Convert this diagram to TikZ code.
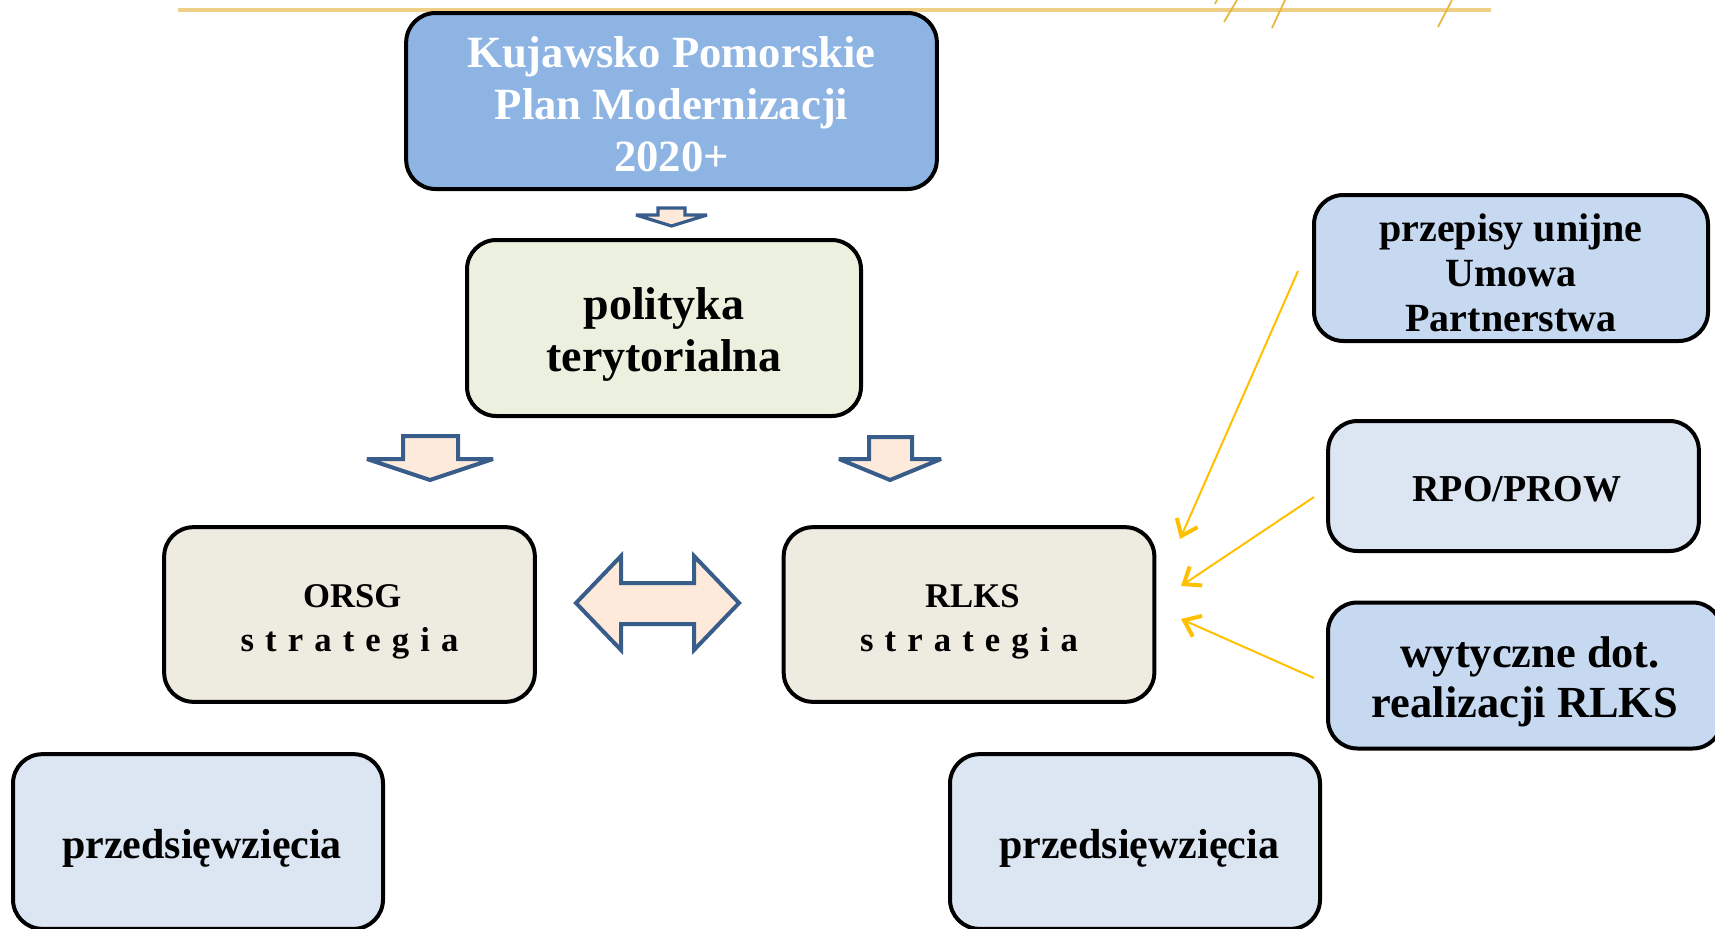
\documentclass[tikz,border=0pt]{standalone}
\usepackage{fontspec}
\setmainfont{Liberation Serif}
\usetikzlibrary{arrows.meta}
\definecolor{topblue}{HTML}{8EB4E3}
\definecolor{palegreen}{HTML}{EBF1DE}
\definecolor{paletan}{HTML}{EEECE1}
\definecolor{paleblue}{HTML}{DCE6F2}
\definecolor{midblue}{HTML}{C6D9F1}
\definecolor{peach}{HTML}{FDEADA}
\definecolor{arrowblue}{HTML}{385D8A}
\definecolor{ygold}{HTML}{FFC000}
\definecolor{linegold}{HTML}{EDCF85}
\definecolor{strokegold}{HTML}{E8B63C}
\newcommand{\ls}{\hspace{0.32em}}
\newcommand{\boxtext}[2]{\raisebox{-#1}[\height][\depth]{\begin{tabular}{@{}c@{}}#2\end{tabular}}}
\begin{document}
\begin{tikzpicture}[x=0.75pt,y=-0.75pt,
  box/.style={draw=black, line width=3pt, rounded corners=22pt, align=center, inner sep=0pt},
  blockarrow/.style={draw=arrowblue, fill=peach, line width=3pt, line join=miter, miter limit=3},
  yarrow/.style={draw=ygold, line width=1.5pt, -{Straight Barb[length=11pt,width=17pt,line width=3pt]}},
  goldstroke/.style={draw=strokegold, line width=1.3pt}]
\useasboundingbox (0,0) rectangle (1715,928);
% top decorative line
\draw[draw=linegold, line width=2.6pt] (178,10) -- (1491,10);
\draw[goldstroke] (1237,0) -- (1224,22);
\draw[goldstroke] (1285,0) -- (1272,28);
\draw[goldstroke] (1452,0) -- (1438,27);
\draw[goldstroke] (1217,0) -- (1215,4);
% boxes
\node[box, fill=topblue, minimum width=398pt, minimum height=132pt, text=white,
  font={\bfseries\fontsize{33.5}{39}\selectfont}] (top) at (671.5,101)
  {\boxtext{5.7pt}{Kujawsko Pomorskie\\Plan Modernizacji\\2020+}};
\node[box, fill=palegreen, minimum width=295.5pt, minimum height=132pt,
  font={\bfseries\fontsize{34.5}{39}\selectfont}] (pol) at (664,328)
  {\boxtext{5.5pt}{polityka\\terytorialna}};
\node[box, fill=paletan, minimum width=278pt, minimum height=131pt,
  font={\bfseries\fontsize{26}{33}\selectfont}] (orsg) at (349.5,614.5)
  {\boxtext{4.6pt}{\hspace{4pt}ORSG\\s\ls t\ls r\ls a\ls t\ls e\ls g\ls i\ls a}};
\node[box, fill=paletan, minimum width=278pt, minimum height=131pt,
  font={\bfseries\fontsize{26}{33}\selectfont}] (rlks) at (969,614.5)
  {\boxtext{4.6pt}{\hspace{5pt}RLKS\\s\ls t\ls r\ls a\ls t\ls e\ls g\ls i\ls a}};
\node[box, fill=paleblue, minimum width=277.5pt, minimum height=131pt,
  font={\bfseries\fontsize{31.5}{38}\selectfont}] (prz1) at (198,841.5)
  {\boxtext{4.9pt}{\hspace{6pt}przedsięwzięcia}};
\node[box, fill=paleblue, minimum width=277.5pt, minimum height=131pt,
  font={\bfseries\fontsize{31.5}{38}\selectfont}] (prz2) at (1135,841.5)
  {\boxtext{4.9pt}{\hspace{6pt}przedsięwzięcia}};
\node[box, fill=midblue, minimum width=295.5pt, minimum height=109.5pt,
  font={\bfseries\fontsize{30}{33.4}\selectfont}] (przepisy) at (1511,268)
  {\boxtext{7.2pt}{przepisy unijne\\Umowa\\Partnerstwa}};
\node[box, fill=paleblue, minimum width=278pt, minimum height=97.5pt,
  font={\bfseries\fontsize{28.5}{34}\selectfont}] (rpo) at (1513.5,486)
  {\boxtext{4.8pt}{\hspace{5pt}RPO/PROW}};
\node[box, fill=midblue, minimum width=295.5pt, minimum height=109.5pt,
  font={\bfseries\fontsize{33.3}{37.5}\selectfont}] (wyt) at (1525,675.5)
  {\boxtext{5.6pt}{\hspace{8pt}wytyczne dot.\\realizacji RLKS}};
% block arrows
\draw[blockarrow, line width=2.4pt] (658,208) -- (685,208) -- (685,215) -- (707,215)
  -- (671.5,226) -- (636,215) -- (658,215) -- cycle;
\draw[blockarrow] (403,436) -- (458,436) -- (458,459) -- (493,459) -- (430,480)
  -- (367,459) -- (403,459) -- cycle;
\draw[blockarrow] (869,437) -- (912,437) -- (912,459) -- (941,459) -- (890,480)
  -- (839,459) -- (869,459) -- cycle;
\draw[blockarrow] (576,603) -- (621,556) -- (621,583) -- (694,583) -- (694,556)
  -- (739,603) -- (694,650) -- (694,624) -- (621,624) -- (621,650) -- cycle;
% yellow arrows
\coordinate (s1) at (1298,271);
\coordinate (e1) at (1180,539);
\coordinate (s2) at (1314,497);
\coordinate (e2) at (1181,586);
\coordinate (s3) at (1314,678);
\coordinate (e3) at (1181,619);
\draw[yarrow] (s1) -- (e1);
\draw[yarrow] (s2) -- (e2);
\draw[yarrow] (s3) -- (e3);
\end{tikzpicture}
\end{document}
